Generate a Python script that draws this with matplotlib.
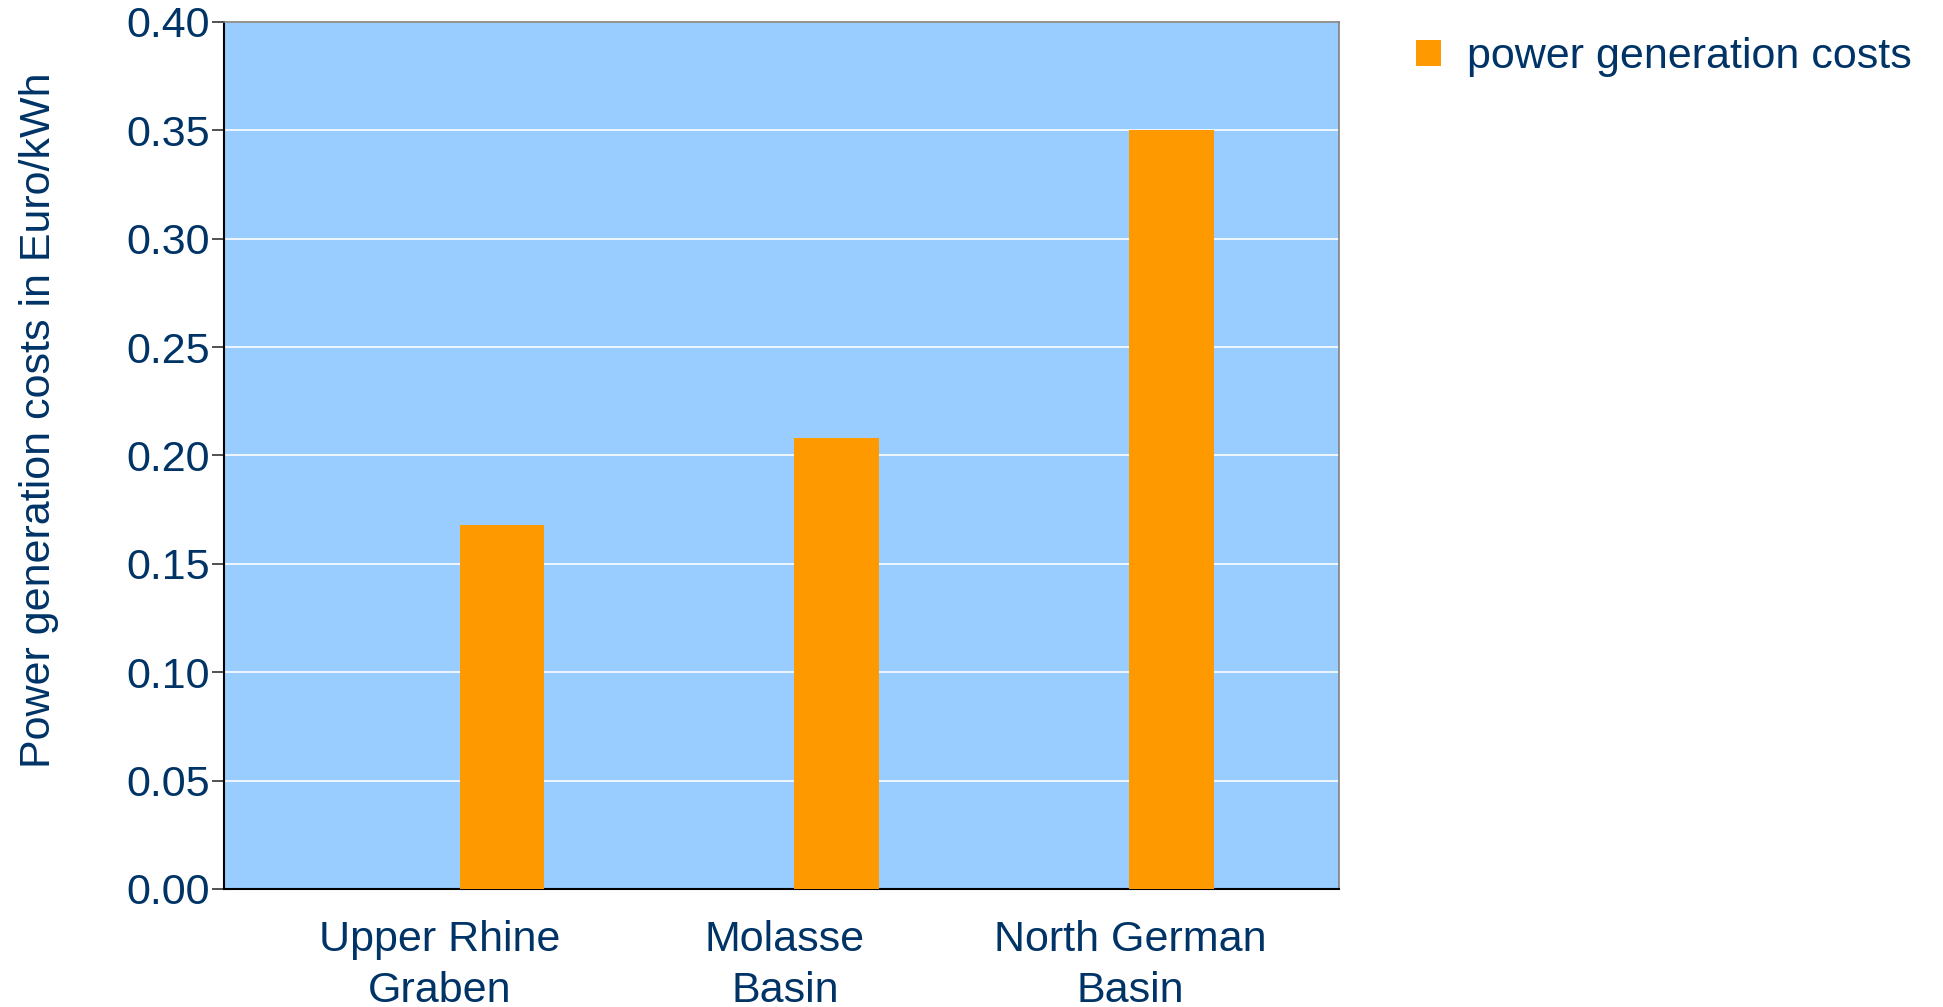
import matplotlib.pyplot as plt
import numpy as np

plt.rcParams['font.family'] = ['Liberation Sans', 'DejaVu Sans']

# Stromgestehungskosten je Region
regions = ['Upper Rhine\nGraben', 'Molasse\nBasin', 'North German\nBasin']
costs = [0.168, 0.208, 0.350]
yticks = [0.00, 0.05, 0.10, 0.15, 0.20, 0.25, 0.30, 0.35, 0.40]

navy = '#003366'
bg = '#99CCFF'
orange = '#FF9900'

fig = plt.figure(figsize=(19.43, 10.07), dpi=100)
ax = fig.add_axes([0.1153, 0.1172, 0.5738, 0.861])

x = np.arange(len(regions))
bar_x = x * 0.97 + 0.18
ax.set_facecolor(bg)
ax.bar(bar_x, costs, width=0.246, color=orange, zorder=3,
       label='power generation costs')

ax.set_xlim(-0.626, 2.606)
ax.set_ylim(0, 0.40)
ax.set_yticks(yticks)
ax.set_yticklabels([f'{v:.2f}' for v in yticks])
ax.set_xticks(x)
ax.set_xticklabels(regions, linespacing=1.36)

ax.yaxis.grid(True, color='white', lw=1.2, zorder=1)
ax.set_axisbelow(True)

for side in ['top', 'right']:
    ax.spines[side].set_color('#808080')
    ax.spines[side].set_linewidth(1.2)
for side in ['left', 'bottom']:
    ax.spines[side].set_color('black')
    ax.spines[side].set_linewidth(1.5)

ax.tick_params(axis='y', length=9, width=1.2, color='#333333',
               labelsize=31, labelcolor=navy, pad=1)
ax.tick_params(axis='x', length=0, labelsize=31, labelcolor=navy, pad=22)

ax.set_ylabel('Power generation costs in Euro/kWh', fontsize=31, color=navy)
ax.yaxis.set_label_coords(-0.148, 0.541)

ax.legend(loc='upper left', bbox_to_anchor=(0.7288, 0.963),
          bbox_transform=fig.transFigure, frameon=False, fontsize=31,
          handlelength=0.58, handleheight=0.58, handletextpad=0.6,
          borderpad=0, borderaxespad=0, labelcolor=navy)

fig.savefig('out.png', dpi=100)
